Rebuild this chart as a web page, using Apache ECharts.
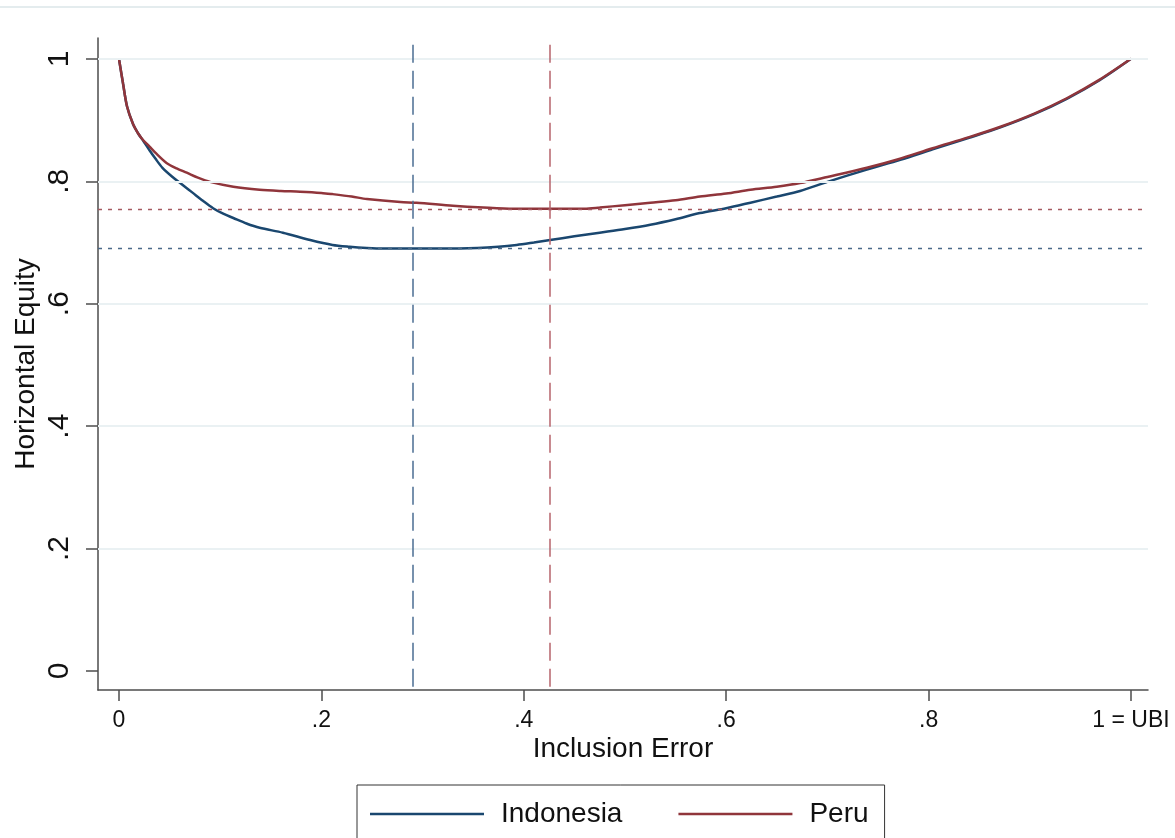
<!DOCTYPE html>
<html>
<head>
<meta charset="utf-8">
<script src="https://cdn.jsdelivr.net/npm/echarts@6/dist/echarts.min.js"></script>
<style>
  html, body { margin: 0; padding: 0; background: #fff; }
  #chart { width: 1175px; height: 838px; }
</style>
</head>
<body>
<div id="chart"></div>
<script>
// tick labels
var xTicks = [0, 0.2, 0.4, 0.6, 0.8, 1];
var xTickLabels = ['0', '.2', '.4', '.6', '.8', '1 = UBI'];
var yTicks = [0, 0.2, 0.4, 0.6, 0.8, 1];
var yTickLabels = ['0', '.2', '.4', '.6', '.8', '1'];
var yGridLines = [0.2, 0.4, 0.6, 0.8, 1];

// inclusion error (x) / horizontal equity (y)
var indoX = [0, 0.004, 0.008, 0.014, 0.019, 0.024, 0.03, 0.036, 0.043, 0.053, 0.063, 0.073, 0.083, 0.093, 0.103, 0.113, 0.126, 0.139, 0.162, 0.189, 0.211, 0.228, 0.245, 0.261, 0.29, 0.32, 0.354, 0.375, 0.393, 0.41, 0.426, 0.45, 0.475, 0.5, 0.525, 0.55, 0.574, 0.6, 0.624, 0.65, 0.673, 0.7, 0.739, 0.772, 0.804, 0.84, 0.871, 0.905, 0.937, 0.969, 1];
var indoY = [1, 0.96, 0.922, 0.893, 0.878, 0.866, 0.851, 0.837, 0.822, 0.807, 0.794, 0.781, 0.768, 0.756, 0.747, 0.74, 0.731, 0.724, 0.716, 0.704, 0.696, 0.693, 0.691, 0.69, 0.69, 0.69, 0.691, 0.693, 0.696, 0.7, 0.704, 0.71, 0.716, 0.722, 0.729, 0.738, 0.748, 0.756, 0.765, 0.775, 0.784, 0.799, 0.819, 0.835, 0.852, 0.871, 0.888, 0.91, 0.935, 0.965, 1];
var peruX = [0, 0.004, 0.008, 0.014, 0.019, 0.024, 0.03, 0.037, 0.047, 0.057, 0.067, 0.078, 0.09, 0.113, 0.139, 0.16, 0.179, 0.2, 0.211, 0.23, 0.245, 0.278, 0.294, 0.33, 0.36, 0.39, 0.426, 0.46, 0.475, 0.5, 0.525, 0.55, 0.574, 0.6, 0.624, 0.65, 0.673, 0.7, 0.739, 0.77, 0.804, 0.84, 0.871, 0.905, 0.937, 0.969, 1];
var peruY = [1, 0.96, 0.922, 0.893, 0.878, 0.867, 0.857, 0.845, 0.83, 0.821, 0.814, 0.806, 0.799, 0.791, 0.786, 0.784, 0.783, 0.781, 0.779, 0.775, 0.771, 0.766, 0.765, 0.76, 0.757, 0.755, 0.755, 0.755, 0.757, 0.761, 0.765, 0.769, 0.775, 0.78, 0.786, 0.791, 0.797, 0.807, 0.822, 0.836, 0.854, 0.872, 0.889, 0.911, 0.936, 0.966, 1];

// optimum markers
var indoOptX = 0.2905, indoOptY = 0.691;
var peruOptX = 0.426, peruOptY = 0.754;

var xMin = -0.0207, xMax = 1.0168;
var yMin = -0.031, yMax = 1.034;
var vTop = 1.023;

var indoColor = '#1a476f', peruColor = '#90353b';

function pairs(xs, ys) {
    return xs.map(function (x, i) { return [x, ys[i]]; });
}

var chart = echarts.init(document.getElementById('chart'));

var gridLineData = yGridLines.map(function (v) {
    return {yAxis: v};
});

var option = {
    animation: false,
    backgroundColor: '#fff',
    textStyle: {fontFamily: 'Liberation Sans, Arial, sans-serif'},
    grid: {left: 98, right: 27, top: 38, bottom: 148, containLabel: false},
    xAxis: {
        type: 'value',
        min: xMin,
        max: xMax,
        name: 'Inclusion Error',
        nameLocation: 'middle',
        nameGap: 45,
        nameMoveOverlap: false,
        nameTextStyle: {fontSize: 28, color: '#111'},
        axisLine: {show: true, onZero: false, lineStyle: {color: '#4d4d4d', width: 1.5}},
        axisTick: {show: true, length: 11, customValues: xTicks, lineStyle: {color: '#4d4d4d', width: 1.5}},
        axisLabel: {
            customValues: xTicks,
            margin: 19,
            fontSize: 23,
            color: '#111',
            formatter: function (v) {
                var i = xTicks.findIndex(function (t) { return Math.abs(t - v) < 1e-6; });
                return i >= 0 ? xTickLabels[i] : '';
            }
        },
        splitLine: {show: false}
    },
    yAxis: {
        type: 'value',
        min: yMin,
        max: yMax,
        name: 'Horizontal Equity',
        nameLocation: 'middle',
        nameGap: 58,
        nameMoveOverlap: false,
        nameTextStyle: {fontSize: 28, color: '#111'},
        axisLine: {show: true, onZero: false, lineStyle: {color: '#4d4d4d', width: 1.5}},
        axisTick: {show: true, length: 12, customValues: yTicks, lineStyle: {color: '#4d4d4d', width: 1.5}},
        axisLabel: {
            customValues: yTicks,
            rotate: 90,
            margin: 23,
            fontSize: 30,
            color: '#111',
            formatter: function (v) {
                var i = yTicks.findIndex(function (t) { return Math.abs(t - v) < 1e-6; });
                return i >= 0 ? yTickLabels[i] : '';
            }
        },
        splitLine: {show: false}
    },
    legend: {
        data: ['Indonesia', 'Peru'],
        left: 357,
        top: 785,
        orient: 'horizontal',
        icon: 'rect',
        itemWidth: 114,
        itemHeight: 2.5,
        itemGap: 56,
        padding: [15, 16, 20, 13],
        borderColor: '#333',
        borderWidth: 1,
        formatter: function (name) { return '{t|' + name + '}'; },
        textStyle: {
            color: '#111',
            rich: {t: {fontSize: 28, lineHeight: 30, padding: [0, 0, 0, 12], color: '#111'}}
        }
    },
    graphic: [{
        type: 'line',
        shape: {x1: 0, y1: 7, x2: 1175, y2: 7},
        style: {stroke: '#e4ecee', lineWidth: 2}
    }],
    series: [
        {
            name: 'gridlines',
            type: 'line',
            data: [],
            z: 1,
            markLine: {
                silent: true,
                symbol: ['none', 'none'],
                label: {show: false},
                lineStyle: {color: '#eaf1f3', width: 2, type: 'solid'},
                data: gridLineData
            }
        },
        {
            name: 'refs',
            type: 'line',
            data: [],
            z: 2,
            markLine: {
                silent: true,
                symbol: ['none', 'none'],
                label: {show: false},
                data: [
                    [{coord: [indoOptX, vTop], lineStyle: {color: '#4b6d92', width: 1.5, type: [18, 8]}}, {coord: [indoOptX, yMin]}],
                    [{coord: [peruOptX, vTop], lineStyle: {color: '#b7646c', width: 1.5, type: [18, 8]}}, {coord: [peruOptX, yMin]}],
                    [{coord: [xMin, peruOptY], lineStyle: {color: '#a5585f', width: 1.3, type: [4, 6]}}, {coord: [xMax, peruOptY]}],
                    [{coord: [xMin, indoOptY], lineStyle: {color: '#4a6888', width: 1.3, type: [4, 6]}}, {coord: [xMax, indoOptY]}]
                ]
            }
        },
        {
            name: 'Indonesia',
            type: 'line',
            z: 3,
            showSymbol: false,
            smooth: 0.3,
            color: indoColor,
            lineStyle: {color: indoColor, width: 2.5},
            data: pairs(indoX, indoY)
        },
        {
            name: 'Peru',
            type: 'line',
            z: 4,
            showSymbol: false,
            smooth: 0.3,
            color: peruColor,
            lineStyle: {color: peruColor, width: 2.5},
            data: pairs(peruX, peruY)
        }
    ]
};

chart.setOption(option);
</script>
</body>
</html>
